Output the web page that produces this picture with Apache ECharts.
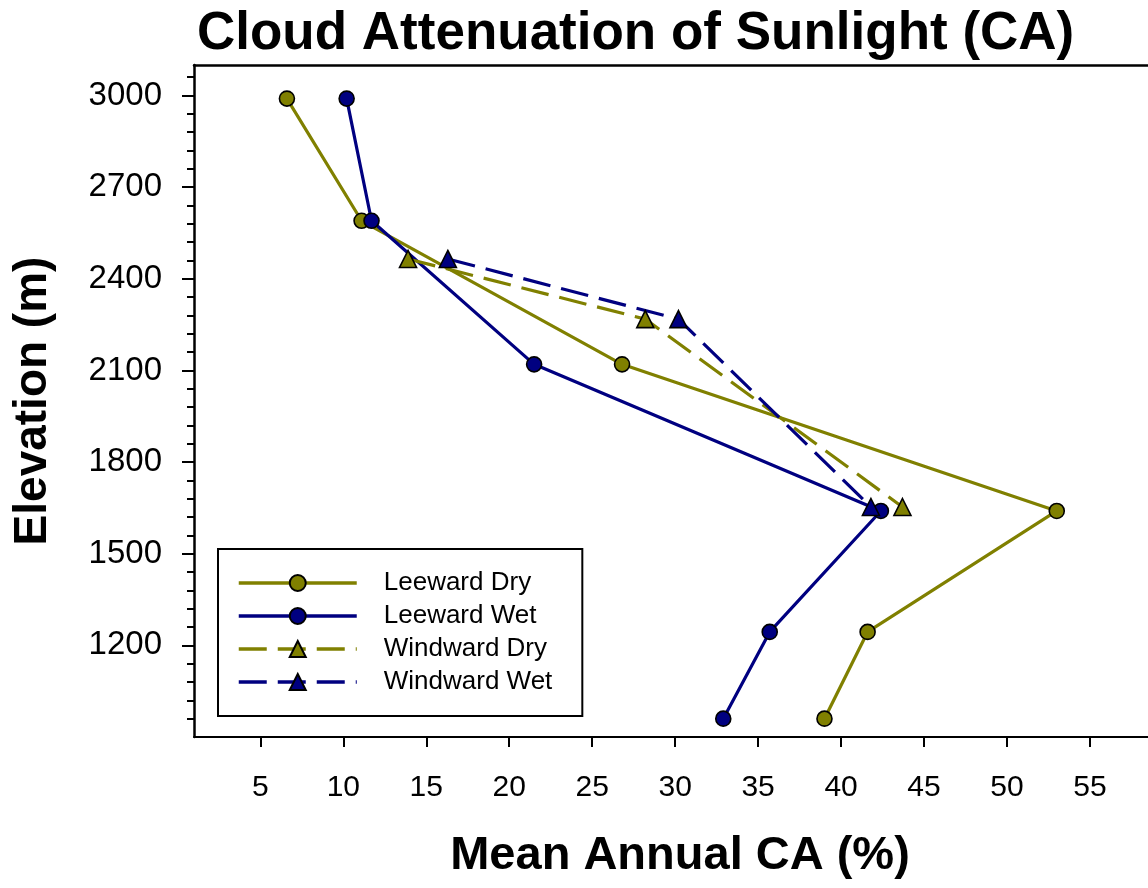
<!DOCTYPE html>
<html>
<head>
<meta charset="utf-8">
<title>Cloud Attenuation of Sunlight (CA)</title>
<script src="https://cdn.jsdelivr.net/npm/echarts@6/dist/echarts.min.js"></script>
<style>
  html, body { margin: 0; padding: 0; background: #fff; }
  #chart { width: 1148px; height: 888px; }
</style>
</head>
<body>
<div id="chart"></div>
<script>
// Mean annual cloud attenuation (%) by elevation (m)
const leewardElevation = [2990, 2590, 2120, 1640, 1244, 960];
const leewardDry = [6.6, 11.1, 26.8, 53.0, 41.6, 39.0];
const leewardWet = [10.2, 11.7, 21.5, 42.4, 35.7, 32.9];

const windwardElevation = [2465, 2268, 1653];
const windwardDry = [13.9, 28.2, 43.7];
const windwardWet = [16.3, 30.2, 41.8];

// Axis ticks
const xTicks = [5, 10, 15, 20, 25, 30, 35, 40, 45, 50, 55];
const yTicks = [1200, 1500, 1800, 2100, 2400, 2700, 3000];
const yMinorTicks = [960, 1020, 1080, 1140, 1260, 1320, 1380, 1440, 1560, 1620, 1680, 1740,
  1860, 1920, 1980, 2040, 2160, 2220, 2280, 2340, 2460, 2520, 2580, 2640,
  2760, 2820, 2880, 2940, 3060];

const OLIVE = '#808000';
const NAVY = '#000080';
const FONT = '"Liberation Sans", Arial, sans-serif';

// The frame runs off the right edge of the canvas, so the x range ends past 55
const X_MIN = 1;
const X_MAX = 58.5;

function pairs(xs, ys) {
  return xs.map((x, i) => [x, ys[i]]);
}

function makeSeries(name, xs, ys, color, symbol, size, dashed) {
  return {
    name: name,
    type: 'line',
    data: pairs(xs, ys),
    symbol: symbol,
    symbolSize: size,
    showAllSymbol: true,
    lineStyle: { color: color, width: 3.2, type: dashed ? [28, 11] : 'solid' },
    itemStyle: { color: color, borderColor: '#000', borderWidth: 1.6 },
    emphasis: { disabled: true }
  };
}

const chart = echarts.init(document.getElementById('chart'), null, { renderer: 'canvas' });

chart.setOption({
  animation: false,
  backgroundColor: '#fff',
  title: {
    text: 'Cloud Attenuation of Sunlight (CA)',
    left: 192,
    top: 3,
    textStyle: { fontFamily: FONT, fontSize: 53, fontWeight: 'bold', color: '#000' }
  },
  grid: {
    left: 194,
    top: 65,
    right: 0,
    bottom: 151,
    show: false
  },
  legend: {
    orient: 'vertical',
    left: 218,
    top: 549,
    padding: [21, 30, 21, 19],
    itemWidth: 118,
    itemHeight: 20,
    itemGap: 7,
    borderColor: '#000',
    borderWidth: 2,
    backgroundColor: '#fff',
    lineStyle: { width: 3.5 },
    textStyle: { fontFamily: FONT, fontSize: 26, color: '#000', padding: [0, 0, 0, 22] },
    data: ['Leeward Dry', 'Leeward Wet', 'Windward Dry', 'Windward Wet']
  },
  xAxis: [
    {
      type: 'value',
      min: X_MIN,
      max: X_MAX,
      name: 'Mean Annual CA (%)',
      nameLocation: 'middle',
      nameGap: 96,
      nameTextStyle: { fontFamily: FONT, fontSize: 47, fontWeight: 'bold', color: '#000', padding: [0, 0, 0, 18] },
      axisLine: { show: true, lineStyle: { color: '#000', width: 2 } },
      axisTick: { show: true, customValues: xTicks, length: 10, lineStyle: { color: '#000', width: 2 } },
      axisLabel: { customValues: xTicks, fontFamily: FONT, fontSize: 30, color: '#000', margin: 36 },
      splitLine: { show: false }
    },
    {
      // top edge of the frame
      type: 'value',
      position: 'top',
      min: X_MIN,
      max: X_MAX,
      axisLine: { show: true, lineStyle: { color: '#000', width: 2.5 } },
      axisTick: { show: false },
      axisLabel: { show: false },
      splitLine: { show: false }
    }
  ],
  yAxis: [
    {
      type: 'value',
      min: 900,
      max: 3100,
      name: 'Elevation (m)',
      nameLocation: 'middle',
      nameGap: 138,
      nameTextStyle: { fontFamily: FONT, fontSize: 46, fontWeight: 'bold', color: '#000' },
      axisLine: { show: true, lineStyle: { color: '#000', width: 2.5 } },
      axisTick: { show: true, customValues: yTicks, length: 12, lineStyle: { color: '#000', width: 2 } },
      axisLabel: {
        customValues: yTicks,
        formatter: (v) => String(v),
        fontFamily: FONT, fontSize: 33, color: '#000', margin: 32
      },
      splitLine: { show: false }
    },
    {
      type: 'value',
      position: 'left',
      min: 900,
      max: 3100,
      axisLine: { show: false },
      axisTick: { show: true, customValues: yMinorTicks, length: 7, lineStyle: { color: '#000', width: 2 } },
      axisLabel: { show: false },
      splitLine: { show: false }
    }
  ],
  series: [
    makeSeries('Leeward Dry', leewardDry, leewardElevation, OLIVE, 'circle', 15, false),
    makeSeries('Leeward Wet', leewardWet, leewardElevation, NAVY, 'circle', 15, false),
    makeSeries('Windward Dry', windwardDry, windwardElevation, OLIVE, 'triangle', 17, true),
    makeSeries('Windward Wet', windwardWet, windwardElevation, NAVY, 'triangle', 17, true)
  ]
});
</script>
</body>
</html>
